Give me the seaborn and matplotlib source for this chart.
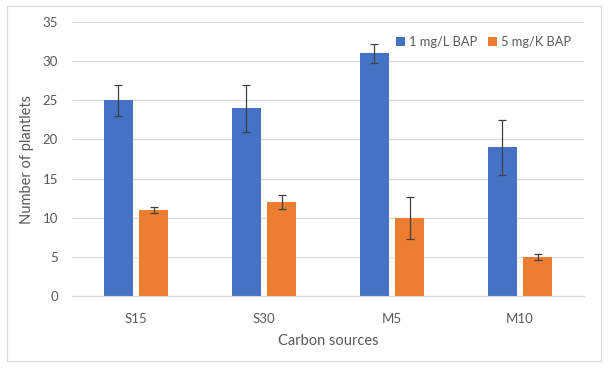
import pandas as pd
import matplotlib.pyplot as plt
import seaborn as sns
from matplotlib.patches import Rectangle

sources = ["S15", "S30", "M5", "M10"]
series = ["1 mg/L BAP", "5 mg/K BAP"]
low_bap = [25, 24, 31, 19]
high_bap = [11, 12, 10, 5]
low_err = [2, 3, 1.2, 3.5]
high_err = [0.4, 0.9, 2.7, 0.4]

df = pd.DataFrame({
    "source": sources * 2,
    "treatment": [series[0]] * 4 + [series[1]] * 4,
    "plantlets": low_bap + high_bap,
    "err": low_err + high_err,
})

sns.set_style("white")
plt.rcParams["font.family"] = ["Lato", "DejaVu Sans"]

fig = plt.figure(figsize=(6.1, 3.7), dpi=100)
ax = fig.add_axes([72 / 610, 1 - 296 / 370, 512 / 610, 274 / 370])

sns.barplot(data=df, x="source", y="plantlets", hue="treatment",
            palette=["#4472C4", "#ED7D31"], width=0.56, gap=0.195,
            errorbar=None, saturation=1, linewidth=0, ax=ax)

# error bars on the bar centres
for cont, (name, grp) in zip(ax.containers, df.groupby("treatment", sort=False)):
    xs = [b.get_x() + b.get_width() / 2 for b in cont]
    ax.errorbar(xs, grp["plantlets"], yerr=grp["err"], fmt="none",
                ecolor="#404040", elinewidth=0.9, capsize=3, capthick=0.9)

ax.set_xlim(-0.5, 3.5)
ax.set_ylim(0, 35)
ax.set_yticks(range(0, 36, 5))
ax.yaxis.grid(True, color="#D9D9D9", linewidth=0.8)
ax.set_axisbelow(True)
for s in ["top", "right", "left"]:
    ax.spines[s].set_visible(False)
ax.spines["bottom"].set_color("#D9D9D9")
ax.tick_params(axis="both", length=0, labelsize=9.5, labelcolor="#595959")
ax.tick_params(axis="x", pad=12)
ax.tick_params(axis="y", pad=10)
ax.set_xlabel("Carbon sources", fontsize=10.5, color="#595959", labelpad=7)
ax.set_ylabel("Number of plantlets", fontsize=10.5, color="#595959", labelpad=6)

ax.legend(title=None, ncol=2, frameon=False, loc="upper right",
          bbox_to_anchor=(0.997, 0.99), fontsize=9.3, handlelength=0.7,
          handleheight=0.7, handletextpad=0.3, columnspacing=0.8,
          labelcolor="#595959")

fig.patches.append(Rectangle((7 / 610, 1 - 361 / 370), 594 / 610, 355 / 370,
                             transform=fig.transFigure, fill=False,
                             edgecolor="#D9D9D9", linewidth=0.8))

fig.savefig("out.png")
